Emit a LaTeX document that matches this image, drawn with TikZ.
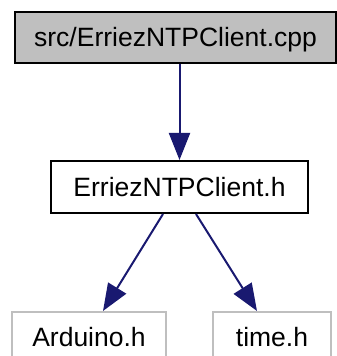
\documentclass[tikz,border=0pt]{standalone}
\usepackage{fontspec}
\setmainfont{Liberation Sans}
\usepackage{xcolor}
\usetikzlibrary{arrows.meta}
\definecolor{edgeblue}{RGB}{25,25,112}
\definecolor{nodegray}{RGB}{191,191,191}
\tikzset{>={Triangle[length=27pt,width=21pt]}}
\tikzstyle{filebox}=[draw=black,line width=2pt,inner sep=0pt,font=\fontsize{26.5}{30}\selectfont,
  text height=19pt,text depth=0pt]
\tikzstyle{extbox}=[filebox,draw=nodegray]
\tikzstyle{incl}=[->,line width=2pt,edgeblue]

\begin{document}
\begin{tikzpicture}[x=1pt,y=1pt]
  \useasboundingbox (0,0) rectangle (337,356);
  \begin{scope}
  \clip (0,0) rectangle (337,356);
  % FILES
  \node[filebox,fill=nodegray,minimum width=321pt,minimum height=51pt] (cpp) at (175.5,318.5) {src/ErriezNTPClient.cpp};
  \node[filebox,minimum width=257pt,minimum height=52pt] (hdr) at (179.5,169) {ErriezNTPClient.h};
  \node[extbox,minimum width=154pt,minimum height=50pt] (ard) at (89,19) {Arduino.h}; % clipped at bottom
  \node[extbox,minimum width=118pt,minimum height=50pt] (tim) at (272,19) {time.h};

  % INCLUDES
  \draw[incl] (cpp.south -| hdr.north) -- (hdr.north);
  \draw[incl] ([xshift=-16.5pt]hdr.south) -- ([xshift=14pt]ard.north);
  \draw[incl] ([xshift=16.5pt]hdr.south) -- ([xshift=-15pt]tim.north);
  \end{scope}
\end{tikzpicture}
\end{document}
